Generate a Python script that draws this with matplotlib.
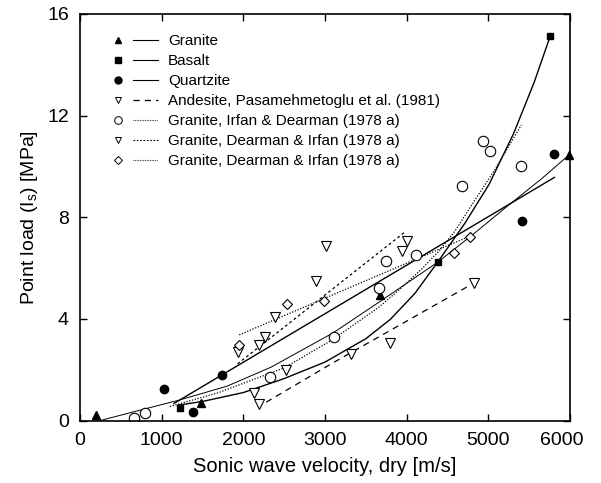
import matplotlib
matplotlib.use("Agg")
import matplotlib.pyplot as plt
import matplotlib.transforms as mtransforms
from matplotlib.lines import Line2D
from matplotlib.legend_handler import HandlerTuple

plt.rcParams['font.family'] = ['Liberation Sans', 'DejaVu Sans']
plt.rcParams['mathtext.fontset'] = 'custom'
plt.rcParams['mathtext.rm'] = 'Liberation Sans'
plt.rcParams['mathtext.it'] = 'Liberation Sans:italic'

# ---- data points ----
granite_v = [190, 1479, 3672, 5988]
granite_is = [0.2, 0.68, 4.95, 10.45]

basalt_v = [1225, 4379, 5760]
basalt_is = [0.48, 6.23, 15.15]

quartz_v = [1033, 1388, 1737, 5413, 5809]
quartz_is = [1.25, 0.35, 1.8, 7.87, 10.5]

andes_v = [2136, 2194, 2521, 3321, 3790, 4820]
andes_is = [1.09, 0.63, 1.99, 2.6, 3.04, 5.4]

gid_v = [662, 797, 2328, 3116, 3656, 3746, 4118, 4681, 4930, 5025, 5401]
gid_is = [0.1, 0.3, 1.7, 3.3, 5.22, 6.29, 6.53, 9.22, 11.02, 10.62, 10.03]

gdi_tri_v = [1933, 2194, 2267, 2390, 2892, 3015, 3942, 4004]
gdi_tri_is = [2.69, 2.99, 3.28, 4.07, 5.48, 6.88, 6.69, 7.08]

gdi_dia_v = [1952, 2540, 2982, 4583, 4771]
gdi_dia_is = [2.99, 4.59, 4.72, 6.6, 7.24]

# ---- fitted curves ----
granite_fit_v = [250, 750, 1200, 1800, 2340, 3100, 3690, 4379, 4780, 5200, 5650, 5988]
granite_fit_is = [0.0, 0.42, 0.79, 1.35, 2.1, 3.45, 4.72, 6.23, 7.24, 8.35, 9.51, 10.45]

basalt_fit_v = [1195, 1500, 2000, 2500, 3000, 3500, 3800, 4100, 4379, 4710, 5010, 5310, 5560, 5760]
basalt_fit_is = [0.6, 0.75, 1.1, 1.65, 2.3, 3.22, 3.98, 5.0, 6.23, 7.75, 9.3, 11.3, 13.3, 15.15]

quartz_fit_v = [1150, 5810]
quartz_fit_is = [0.67, 9.57]

andes_fit_v = [2280, 3076, 4790]
andes_fit_is = [0.72, 2.23, 5.35]

gid_fit_v = [1100, 1700, 2500, 3076, 3656, 3893, 4180, 4390, 4590, 4810, 5077, 5404]
gid_fit_is = [0.55, 1.1, 2.07, 3.15, 4.45, 5.1, 5.95, 6.65, 7.45, 8.55, 9.86, 11.63]

gdi_tri_fit_v = [1930, 3975]
gdi_tri_fit_is = [2.23, 7.41]

gdi_dia_fit_v = [1950, 4790]
gdi_dia_fit_is = [3.37, 7.28]

labels = ["Granite", "Basalt", "Quartzite",
          "Andesite, Pasamehmetoglu et al. (1981)",
          "Granite, Irfan & Dearman (1978 a)",
          "Granite, Dearman & Irfan (1978 a)",
          "Granite, Dearman & Irfan (1978 a)"]

x_ticks = [0, 1000, 2000, 3000, 4000, 5000, 6000]
y_ticks = [0, 4, 8, 12, 16]

fig = plt.figure(figsize=(6.01, 4.83), dpi=100)
ax = fig.add_axes([80 / 601, 1 - 420.5 / 483, 490 / 601, 406.5 / 483])

k = 'black'
ls_dot = (0, (1, 1.3))
ls_sdash = (0, (2.2, 2.2))
ls_dash = (0, (5, 4))
ax.plot(granite_fit_v, granite_fit_is, color=k, lw=0.7)
ax.plot(basalt_fit_v, basalt_fit_is, color=k, lw=1.0)
ax.plot(quartz_fit_v, quartz_fit_is, color=k, lw=1.0)
ax.plot(andes_fit_v, andes_fit_is, color=k, lw=0.9, ls=ls_dash)
ax.plot(gid_fit_v, gid_fit_is, color=k, lw=0.9, ls=ls_dot)
ax.plot(gdi_tri_fit_v, gdi_tri_fit_is, color=k, lw=0.9, ls=ls_sdash)
ax.plot(gdi_dia_fit_v, gdi_dia_fit_is, color=k, lw=0.9, ls=ls_dot)

ax.plot(granite_v, granite_is, ls='none', marker='^', ms=6, color=k, clip_on=False)
ax.plot(basalt_v, basalt_is, ls='none', marker='s', ms=5, color=k)
ax.plot(quartz_v, quartz_is, ls='none', marker='o', ms=6, color=k)
ax.plot(andes_v, andes_is, ls='none', marker='v', ms=6.5, mfc='white', mec=k, mew=0.8)
ax.plot(gid_v, gid_is, ls='none', marker='o', ms=7.5, mfc='white', mec=k, mew=0.8)
ax.plot(gdi_tri_v, gdi_tri_is, ls='none', marker='v', ms=6.5, mfc='white', mec=k, mew=0.8)
ax.plot(gdi_dia_v, gdi_dia_is, ls='none', marker='D', ms=5.5, mfc='white', mec=k, mew=0.8)

ax.set_xlim(0, 6000)
ax.set_ylim(0, 16)
ax.set_xticks(x_ticks)
ax.set_yticks(y_ticks)
ax.tick_params(direction='in', top=True, right=True, length=5, width=1,
               labelsize=14)
ax.tick_params(axis='x', pad=8)
ax.tick_params(axis='y', pad=8)
for s in ax.spines.values():
    s.set_linewidth(1.2)
ax.set_xlabel("Sonic wave velocity, dry [m/s]", fontsize=14.5, labelpad=6)
ax.set_ylabel(r"Point load (I$_\mathrm{s}$) [MPa]", fontsize=14, labelpad=5)

# nudge last x tick label left as in the original
fig.canvas.draw()
lastlab = ax.get_xticklabels()[-1]
lastlab.set_transform(lastlab.get_transform() +
                      mtransforms.ScaledTranslation(-8 / 100, 0, fig.dpi_scale_trans))

# legend
mk = [Line2D([], [], ls='none', marker='^', ms=5, color=k),
      Line2D([], [], ls='none', marker='s', ms=4.5, color=k),
      Line2D([], [], ls='none', marker='o', ms=5, color=k),
      Line2D([], [], ls='none', marker='v', ms=5, mfc='white', mec=k, mew=0.7),
      Line2D([], [], ls='none', marker='o', ms=5.5, mfc='white', mec=k, mew=0.7),
      Line2D([], [], ls='none', marker='v', ms=5, mfc='white', mec=k, mew=0.7),
      Line2D([], [], ls='none', marker='D', ms=4.5, mfc='white', mec=k, mew=0.7)]
ln = [Line2D([], [], color=k, lw=0.8),
      Line2D([], [], color=k, lw=0.8),
      Line2D([], [], color=k, lw=0.8),
      Line2D([], [], color=k, lw=0.9, ls=ls_dash),
      Line2D([], [], color=k, lw=0.8, ls=(0, (0.6, 0.9))),
      Line2D([], [], color=k, lw=0.8, ls=(0, (1.5, 1.5))),
      Line2D([], [], color=k, lw=0.8, ls=(0, (0.6, 0.9)))]
handles = [(m, l) for m, l in zip(mk, ln)]
leg = ax.legend(handles, labels, loc='upper left', bbox_to_anchor=(0.039, 0.965),
                frameon=False, fontsize=11, handlelength=3.46, handletextpad=0.65,
                labelspacing=0.39, borderaxespad=0,
                handler_map={tuple: HandlerTuple(ndivide=None, pad=0.2)})

fig.savefig("out.png", dpi=100)
